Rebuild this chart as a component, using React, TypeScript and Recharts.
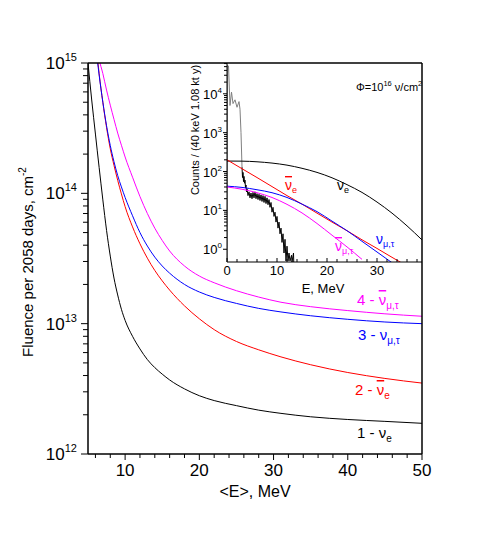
import { LineChart, Line, XAxis, YAxis } from 'recharts';

const W = 491;
const H = 545;
const FONT = '"Liberation Sans", Arial, Helvetica, sans-serif';

// main plot: fluence vs mean energy <E>, MeV
const meanEnergy = [5, 5.5, 6, 6.5, 7, 7.5, 8, 8.5, 9, 9.5, 10, 11, 12, 13, 14, 15, 16, 18, 20, 22, 25, 28, 31, 35, 40, 45, 50];
const fluenceNuE = [1.0e15, 5.2e14, 2.85e14, 1.58e14, 8.9e13, 5.2e13, 3.3e13, 2.24e13, 1.66e13, 1.29e13, 1.06e13, 8.0e12, 6.4e12, 5.3e12, 4.6e12, 4.1e12, 3.7e12, 3.16e12, 2.8e12, 2.57e12, 2.35e12, 2.17e12, 2.05e12, 1.93e12, 1.84e12, 1.78e12, 1.72e12];
const fluenceAntiNuE = [null, null, 1.6e15, 8.3e14, 5.0e14, 3.2e14, 2.2e14, 1.64e14, 1.26e14, 9.9e13, 7.9e13, 5.53e13, 4.1e13, 3.18e13, 2.56e13, 2.13e13, 1.81e13, 1.37e13, 1.09e13, 9.0e12, 7.3e12, 6.3e12, 5.56e12, 4.84e12, 4.22e12, 3.8e12, 3.5e12];
const fluenceNuMuTau = [null, null, 1.4e15, 8.1e14, 5.0e14, 3.3e14, 2.33e14, 1.75e14, 1.37e14, 1.12e14, 9.3e13, 6.73e13, 5.0e13, 3.94e13, 3.24e13, 2.77e13, 2.44e13, 2.0e13, 1.75e13, 1.59e13, 1.43e13, 1.31e13, 1.23e13, 1.15e13, 1.08e13, 1.03e13, 1.0e13];
const fluenceAntiNuMuTau = [null, null, 1.6e15, 1.07e15, 8.3e14, 6.2e14, 4.75e14, 3.7e14, 2.9e14, 2.34e14, 1.9e14, 1.33e14, 9.45e13, 7.0e13, 5.4e13, 4.35e13, 3.61e13, 2.77e13, 2.32e13, 2.06e13, 1.79e13, 1.6e13, 1.46e13, 1.35e13, 1.26e13, 1.19e13, 1.14e13];

const mainXTicks = [6, 8, 10, 12, 14, 16, 18, 20, 22, 24, 26, 28, 30, 32, 34, 36, 38, 40, 42, 44, 46, 48, 50];
const mainXLabels = [10, 20, 30, 40, 50];

// inset: counts spectrum vs E, MeV
const insetEnergy = [0, 3, 6, 9, 12, 15, 18, 21, 24, 27, 30, 33, 36, 39];
const countsNuE = [186, 185, 178, 165, 146, 121, 95, 69, 46, 29, 16.4, 8.5, 4.0, 1.74];
const countsAntiNuE = [200, 118, 70, 41, 24, 14.5, 8.5, 5.0, 3.0, 1.75, 1.05, 0.62, 0.37, 0.22];
const countsNuMuTau = [42, 39, 34, 28.5, 21.5, 14.5, 9.3, 5.3, 3.0, 1.6, 0.85, 0.45, null, null];
const countsAntiNuMuTau = [40, 35, 28.5, 21.5, 14.3, 8.6, 4.6, 2.3, 1.15, 0.55, null, null, null, null];

const spectrumLowE = [0.05, 0.1, 0.3, 0.6, 0.9, 1.2, 1.6, 2.0, 2.4, 2.6, 2.8, 3.0];
const spectrumLow = [0.5, 55000, 52000, 5000, 11000, 5600, 7000, 4500, 6300, 4000, 1000, 130];
const spectrumHighE = [3.0, 3.1, 3.2, 3.3, 3.4, 3.5, 3.6, 3.7, 3.8, 3.9, 4.0, 4.2, 4.4, 4.6, 4.8, 5.0, 5.2, 5.4, 5.6, 5.8, 6.0, 6.2, 6.4, 6.6, 6.8, 7.0, 7.2, 7.4, 7.6, 7.8, 8.0, 8.2, 8.4, 8.6, 8.8, 9.0, 9.2, 9.4, 9.6, 9.8, 10.0, 10.2, 10.4, 10.6, 10.8, 11.0, 11.2, 11.4, 11.6, 11.8, 12.0, 12.2, 12.4, 12.6, 12.9, 13.0, 13.3, 13.35];
const spectrumHigh = [130, 70, 95, 55, 75, 50, 60, 38, 45, 30, 36, 24, 30, 21, 28, 20, 29, 21, 30, 20, 27, 19, 26, 18, 25, 17, 24, 16, 23, 15, 21, 14, 19, 12, 16, 9, 12, 7, 9, 5, 7, 3.5, 5, 2.5, 3.5, 1.5, 2.5, 0.8, 1.8, 0.5, 1.2, 0.5, 0.8, 0.5, 0.7, 0.47, 0.8, 0.47];

const insetXTicks = [0, 2, 4, 6, 8, 10, 12, 14, 16, 18, 20, 22, 24, 26, 28, 30, 32, 34, 36, 38];
const insetXLabels = [0, 10, 20, 30];

function logTicks(lo: number, hi: number) {
  const out: number[] = [];
  for (let p = lo; p < hi; p++) {
    for (let m = 1; m < 10; m++) out.push(m * Math.pow(10, p));
  }
  out.push(Math.pow(10, hi));
  return out;
}
const mainYTicks = logTicks(12, 15);
const insetYTicks = logTicks(0, 4).concat([2e4, 3e4, 4e4, 5e4, 6e4]);

const isDecade = (v: number) => {
  const p = Math.log10(v);
  return Math.abs(p - Math.round(p)) < 1e-6;
};

const MainYTick = (props: any) => {
  const { x, y, payload } = props;
  const major = isDecade(payload.value);
  const p = Math.round(Math.log10(payload.value));
  return (
    <g>
      <line x1={x} x2={x - (major ? 7 : 5)} y1={y} y2={y} stroke="#000" strokeWidth={1} />
      {major && (
        <text x={x - 11} y={y + 6} textAnchor="end" fontSize={17} fontFamily={FONT} fill="#000">
          10<tspan dy={-8} fontSize={11}>{p}</tspan>
        </text>
      )}
    </g>
  );
};

const MainXTick = (props: any) => {
  const { x, y, payload } = props;
  const major = mainXLabels.includes(payload.value);
  return (
    <g>
      <line x1={x} x2={x} y1={y} y2={y + (major ? 6 : 4)} stroke="#000" strokeWidth={1} />
      {major && (
        <text x={x} y={y + 22} textAnchor="middle" fontSize={17} fontFamily={FONT} fill="#000">
          {payload.value}
        </text>
      )}
    </g>
  );
};

const InsetYTick = (props: any) => {
  const { x, y, payload } = props;
  const major = isDecade(payload.value);
  const p = Math.round(Math.log10(payload.value));
  return (
    <g>
      <line x1={x} x2={x - (major ? 4 : 3)} y1={y} y2={y} stroke="#000" strokeWidth={1} />
      {major && (
        <text x={x - 5} y={y + 5} textAnchor="end" fontSize={13} fontFamily={FONT} fill="#000">
          10<tspan dy={-6} fontSize={8}>{p}</tspan>
        </text>
      )}
    </g>
  );
};

const InsetXTick = (props: any) => {
  const { x, y, payload } = props;
  const major = insetXLabels.includes(payload.value);
  return (
    <g>
      <line x1={x} x2={x} y1={y} y2={y - (major ? 4 : 3)} stroke="#000" strokeWidth={1} />
      {major && (
        <text x={x} y={y + 13} textAnchor="middle" fontSize={13} fontFamily={FONT} fill="#000">
          {payload.value}
        </text>
      )}
    </g>
  );
};

const mainRows = meanEnergy.map((e, i) => ({
  e,
  nuE: fluenceNuE[i],
  antiNuE: fluenceAntiNuE[i],
  nuMuTau: fluenceNuMuTau[i],
  antiNuMuTau: fluenceAntiNuMuTau[i],
}));

const insetRows = insetEnergy.map((e, i) => ({
  e,
  nuE: countsNuE[i],
  antiNuE: countsAntiNuE[i],
  nuMuTau: countsNuMuTau[i],
  antiNuMuTau: countsAntiNuMuTau[i],
}));
const lowRows = spectrumLowE.map((e, i) => ({ e, c: spectrumLow[i] }));
const highRows = spectrumHighE.map((e, i) => ({ e, c: spectrumHigh[i] }));

const axisLine = { stroke: '#000', strokeWidth: 1.5 };

export default function App() {
  return (
    <div style={{ position: 'absolute', left: 0, top: 0, width: W, height: H, background: '#fff' }}>
      <div style={{ position: 'absolute', left: 0, top: 0 }}>
        <LineChart width={W} height={H} data={mainRows} margin={{ top: 53, right: 59, bottom: 61, left: 0 }}>
          <XAxis dataKey="e" type="number" domain={[5, 50]} allowDataOverflow ticks={mainXTicks} interval={0}
            height={30} tickSize={0} tickMargin={0} tickLine={false} axisLine={axisLine} tick={<MainXTick />} />
          <XAxis xAxisId="top" orientation="top" dataKey="e" type="number" domain={[5, 50]} height={10}
            tick={false} tickLine={false} axisLine={axisLine} />
          <YAxis scale="log" domain={[1e12, 1e15]} allowDataOverflow ticks={mainYTicks} interval={0}
            width={88} tickSize={0} tickMargin={0} tickLine={false} axisLine={axisLine} tick={<MainYTick />} />
          <YAxis yAxisId="right" orientation="right" scale="log" domain={[1e12, 1e15]} width={10}
            tick={false} tickLine={false} axisLine={axisLine} />
          <Line dataKey="nuE" type="monotone" stroke="#000000" strokeWidth={1} dot={false} isAnimationActive={false} />
          <Line dataKey="antiNuE" type="monotone" stroke="#ff0000" strokeWidth={1} dot={false} isAnimationActive={false} />
          <Line dataKey="nuMuTau" type="monotone" stroke="#0000ff" strokeWidth={1} dot={false} isAnimationActive={false} />
          <Line dataKey="antiNuMuTau" type="monotone" stroke="#ff00ff" strokeWidth={1} dot={false} isAnimationActive={false} />
        </LineChart>
      </div>

      <div style={{ position: 'absolute', left: 0, top: 0 }}>
        <LineChart width={W} height={H} data={insetRows} margin={{ top: 63, right: 69, bottom: 253, left: 0 }}>
          <XAxis dataKey="e" type="number" domain={[0, 39]} allowDataOverflow ticks={insetXTicks} interval={0}
            height={30} tickSize={0} tickMargin={0} tickLine={false} axisLine={{ stroke: '#000', strokeWidth: 1 }} tick={<InsetXTick />} />
          <YAxis scale="log" domain={[0.47, 62000]} allowDataOverflow ticks={insetYTicks} interval={0}
            width={227} tickSize={0} tickMargin={0} tickLine={false} axisLine={{ stroke: '#000', strokeWidth: 1 }} tick={<InsetYTick />} />
          <Line data={lowRows} dataKey="c" type="linear" stroke="#808080" strokeWidth={1} dot={false} isAnimationActive={false} />
          <Line data={highRows} dataKey="c" type="linear" stroke="#000000" strokeWidth={1} dot={false} isAnimationActive={false} />
          <Line dataKey="nuE" type="monotone" stroke="#000000" strokeWidth={1} dot={false} isAnimationActive={false} />
          <Line dataKey="antiNuE" type="monotone" stroke="#ff0000" strokeWidth={1} dot={false} isAnimationActive={false} />
          <Line dataKey="nuMuTau" type="monotone" stroke="#0000ff" strokeWidth={1} dot={false} isAnimationActive={false} />
          <Line dataKey="antiNuMuTau" type="monotone" stroke="#ff00ff" strokeWidth={1} dot={false} isAnimationActive={false} />
        </LineChart>
      </div>

      <svg width={W} height={H} style={{ position: 'absolute', left: 0, top: 0, pointerEvents: 'none' }} fontFamily={FONT}>
        <text transform="translate(33,262) rotate(-90)" textAnchor="middle" fontSize={15} fill="#000">
          Fluence per 2058 days, cm<tspan dy={-7} fontSize={10}>-2</tspan>
        </text>
        <text x={255} y={497} textAnchor="middle" fontSize={16} fill="#000">&lt;E&gt;, MeV</text>

        <text x={357} y={305} fontSize={15} fill="#ff00ff">
          4 - <tspan style={{ textDecoration: 'overline' }}>ν</tspan><tspan dy={4} fontSize={10}>μ,τ</tspan>
        </text>
        <text x={358} y={340} fontSize={15} fill="#0000ff">
          3 - ν<tspan dy={4} fontSize={10}>μ,τ</tspan>
        </text>
        <text x={355} y={395} fontSize={15} fill="#ff0000">
          2 - <tspan style={{ textDecoration: 'overline' }}>ν</tspan><tspan dy={4} fontSize={10}>e</tspan>
        </text>
        <text x={357} y={438} fontSize={15} fill="#000">
          1 - ν<tspan dy={4} fontSize={10}>e</tspan>
        </text>

        <text transform="translate(199,130) rotate(-90)" textAnchor="middle" fontSize={11} fill="#000">
          Counts / (40 keV 1.08 kt y)
        </text>
        <text x={323} y={293} textAnchor="middle" fontSize={13} fill="#000">E, MeV</text>
        <text x={356} y={91} fontSize={11} fill="#000">
          Φ=10<tspan dy={-5} fontSize={7.5}>16</tspan><tspan dy={5}> ν/cm</tspan><tspan dy={-5} fontSize={7.5}>2</tspan>
        </text>
        <text x={285} y={190} fontSize={14} fill="#ff0000">
          <tspan style={{ textDecoration: 'overline' }}>ν</tspan><tspan dy={3} fontSize={9}>e</tspan>
        </text>
        <text x={337} y={190} fontSize={14} fill="#000">
          ν<tspan dy={3} fontSize={9}>e</tspan>
        </text>
        <text x={376} y={244} fontSize={14} fill="#0000ff">
          ν<tspan dy={3} fontSize={9}>μ,τ</tspan>
        </text>
        <text x={335} y={251} fontSize={14} fill="#ff00ff">
          <tspan style={{ textDecoration: 'overline' }}>ν</tspan><tspan dy={3} fontSize={9}>μ,τ</tspan>
        </text>
      </svg>
    </div>
  );
}
